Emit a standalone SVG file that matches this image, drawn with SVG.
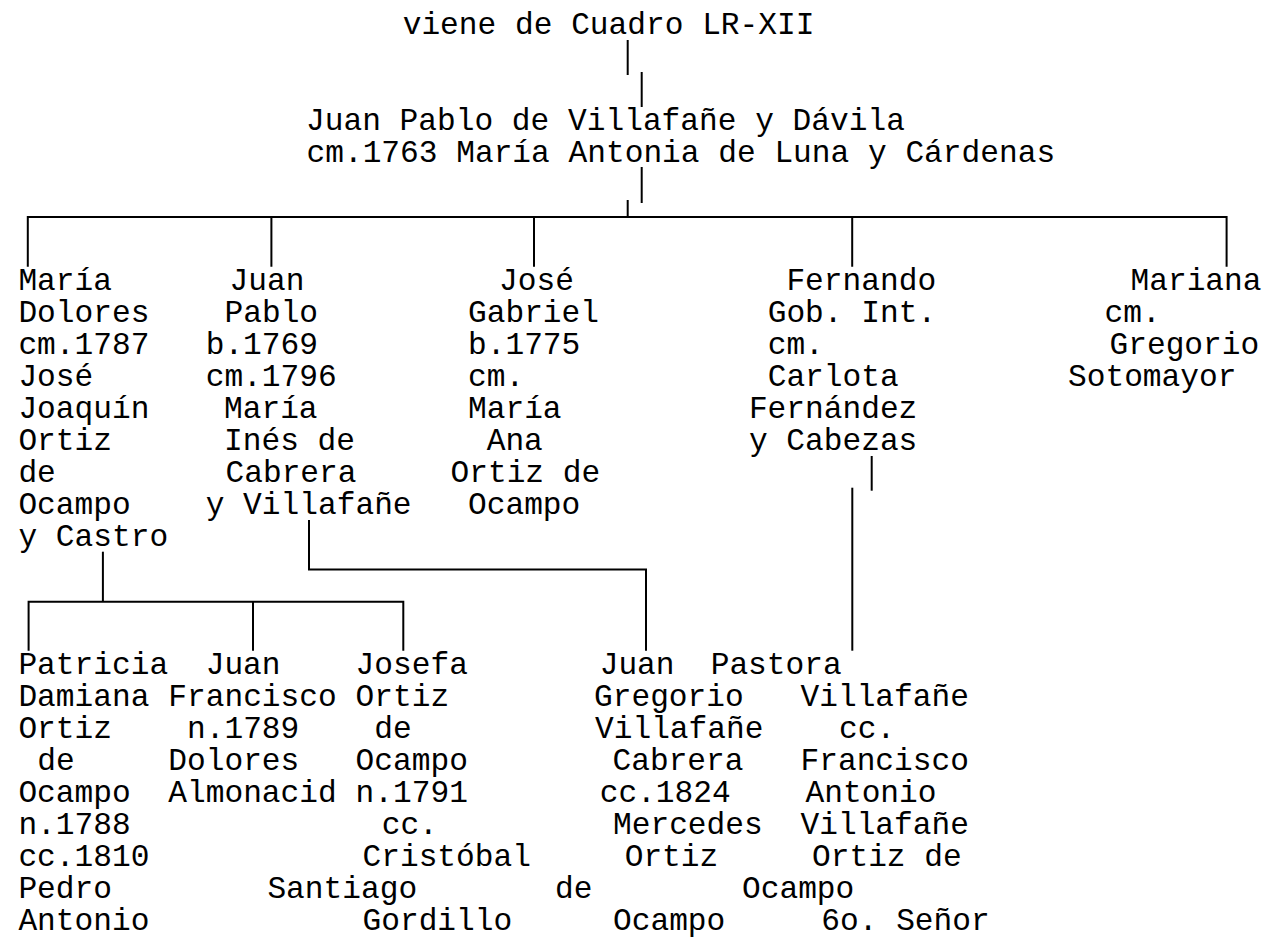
<svg xmlns="http://www.w3.org/2000/svg" width="1268" height="939" viewBox="0 0 1268 939">
<style>
.t{font-family:"Liberation Mono","Courier New",monospace;font-size:31.2px;fill:#000}
.c{stroke:#000;stroke-width:2;fill:none}
</style>
<rect x="0" y="0" width="1268" height="939" fill="#fff"/>
<g id="connectors">
<path class="c" d="M627.7,40V75"/>
<path class="c" d="M641.7,72V107"/>
<path class="c" d="M641.7,167V203"/>
<path class="c" d="M627.7,200V217"/>
<path class="c" d="M27.8,266.7V217H1226.6V266.7"/>
<path class="c" d="M271.4,217V266.7M534,217V266.7M852.2,217V266.7"/>
<path class="c" d="M309,520V569.5H646V650.7"/>
<path class="c" d="M102.9,551.7V601.7"/>
<path class="c" d="M28.6,650.7V601.7H403.3V650.7M253,601.7V650.7"/>
<path class="c" d="M871.7,456V490.7"/>
<path class="c" d="M852.3,487.7V650.7"/>
</g>
<g id="origin">
<text class="t" x="402.7" y="34">viene de Cuadro LR-XII</text>
</g>
<g id="parents">
<text class="t" x="306" y="130">Juan Pablo de Villafañe y Dávila</text>
<text class="t" x="306.5" y="162">cm.1763 María Antonia de Luna y Cárdenas</text>
</g>
<g id="maria-dolores">
<text class="t" x="18.4" y="290">María</text>
<text class="t" x="18.4" y="322">Dolores</text>
<text class="t" x="18.4" y="354">cm.1787</text>
<text class="t" x="18.4" y="386">José</text>
<text class="t" x="18.4" y="418">Joaquín</text>
<text class="t" x="18.4" y="450">Ortiz</text>
<text class="t" x="18.4" y="482">de</text>
<text class="t" x="18.4" y="514">Ocampo</text>
<text class="t" x="18.4" y="546">y Castro</text>
</g>
<g id="juan-pablo">
<text class="t" x="229.5" y="290">Juan</text>
<text class="t" x="224.5" y="322">Pablo</text>
<text class="t" x="205.7" y="354">b.1769</text>
<text class="t" x="205.7" y="386">cm.1796</text>
<text class="t" x="224" y="418">María</text>
<text class="t" x="224" y="450">Inés de</text>
<text class="t" x="225.5" y="482">Cabrera</text>
<text class="t" x="205.7" y="514">y Villafañe</text>
</g>
<g id="jose-gabriel">
<text class="t" x="499" y="290">José</text>
<text class="t" x="468" y="322">Gabriel</text>
<text class="t" x="468" y="354">b.1775</text>
<text class="t" x="468" y="386">cm.</text>
<text class="t" x="468" y="418">María</text>
<text class="t" x="486.7" y="450">Ana</text>
<text class="t" x="450.5" y="482">Ortiz de</text>
<text class="t" x="468" y="514">Ocampo</text>
</g>
<g id="fernando">
<text class="t" x="786.4" y="290">Fernando</text>
<text class="t" x="767.7" y="322">Gob. Int.</text>
<text class="t" x="767.7" y="354">cm.</text>
<text class="t" x="767.7" y="386">Carlota</text>
<text class="t" x="748.9" y="418">Fernández</text>
<text class="t" x="748.9" y="450">y Cabezas</text>
</g>
<g id="mariana">
<text class="t" x="1130.5" y="290">Mariana</text>
<text class="t" x="1104.5" y="322">cm.</text>
<text class="t" x="1109.5" y="354">Gregorio</text>
<text class="t" x="1068" y="386">Sotomayor</text>
</g>
<g id="patricia">
<text class="t" x="18.4" y="674">Patricia</text>
<text class="t" x="18.4" y="706">Damiana</text>
<text class="t" x="18.4" y="738">Ortiz</text>
<text class="t" x="37.2" y="770">de</text>
<text class="t" x="18.4" y="802">Ocampo</text>
<text class="t" x="18.4" y="834">n.1788</text>
<text class="t" x="18.4" y="866">cc.1810</text>
<text class="t" x="18.4" y="898">Pedro</text>
<text class="t" x="18.4" y="930">Antonio</text>
</g>
<g id="juan-francisco">
<text class="t" x="205.7" y="674">Juan</text>
<text class="t" x="168.3" y="706">Francisco</text>
<text class="t" x="187" y="738">n.1789</text>
<text class="t" x="168.3" y="770">Dolores</text>
<text class="t" x="168.3" y="802">Almonacid</text>
</g>
<g id="josefa">
<text class="t" x="355.6" y="674">Josefa</text>
<text class="t" x="355.6" y="706">Ortiz</text>
<text class="t" x="374.3" y="738">de</text>
<text class="t" x="355.6" y="770">Ocampo</text>
<text class="t" x="355.6" y="802">n.1791</text>
<text class="t" x="381.7" y="834">cc.</text>
<text class="t" x="362.5" y="866">Cristóbal</text>
<text class="t" x="267.4" y="898">Santiago</text>
<text class="t" x="362.5" y="930">Gordillo</text>
</g>
<g id="juan-gregorio">
<text class="t" x="599.7" y="674">Juan</text>
<text class="t" x="594" y="706">Gregorio</text>
<text class="t" x="595" y="738">Villafañe</text>
<text class="t" x="612.5" y="770">Cabrera</text>
<text class="t" x="599.7" y="802">cc.1824</text>
<text class="t" x="613" y="834">Mercedes</text>
<text class="t" x="624.7" y="866">Ortiz</text>
<text class="t" x="555" y="898">de</text>
<text class="t" x="613" y="930">Ocampo</text>
</g>
<g id="pastora">
<text class="t" x="710.7" y="674">Pastora</text>
<text class="t" x="800.5" y="706">Villafañe</text>
<text class="t" x="839" y="738">cc.</text>
<text class="t" x="800.5" y="770">Francisco</text>
<text class="t" x="805.5" y="802">Antonio</text>
<text class="t" x="800.5" y="834">Villafañe</text>
<text class="t" x="812" y="866">Ortiz de</text>
<text class="t" x="742" y="898">Ocampo</text>
<text class="t" x="821.3" y="930">6o. Señor</text>
</g>
</svg>
